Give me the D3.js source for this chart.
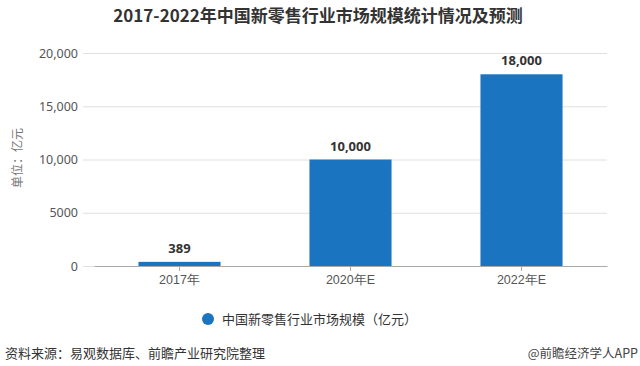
<!DOCTYPE html>
<html>
<head>
<meta charset="utf-8">
<script src="https://cdn.jsdelivr.net/npm/d3@7"></script>
<style>
  body { margin: 0; background: #fff; }
  svg { display: block; font-family: "Noto Sans CJK SC", "Noto Sans", sans-serif; }
</style>
</head>
<body>
<svg id="chart" width="640" height="366"></svg>
<script>
// chart data
var categories = ["2017年", "2020年E", "2022年E"];
var values = [389, 10000, 18000];
var valueLabels = ["389", "10,000", "18,000"];
var yTicks = [0, 5000, 10000, 15000, 20000];
var yTickLabels = ["0", "5000", "10,000", "15,000", "20,000"];

var svg = d3.select("#chart");
var margin = {top: 53, right: 33, bottom: 100, left: 94};
var width = 640 - margin.left - margin.right;
var height = 366 - margin.top - margin.bottom; // 0 sits at y=266

var x = d3.scaleBand()
  .domain(categories)
  .range([0, width])
  .paddingInner(0.52)
  .paddingOuter(0.26);

var y = d3.scaleLinear()
  .domain([0, 20000])
  .range([height, 0]);

// title
svg.append("text")
  .attr("x", 318).attr("y", 22)
  .attr("text-anchor", "middle")
  .attr("font-size", 17).attr("font-weight", "bold")
  .attr("fill", "#333")
  .text("2017-2022年中国新零售行业市场规模统计情况及预测");

var g = svg.append("g").attr("transform", "translate(" + margin.left + "," + margin.top + ")");

// gridlines + y labels
var yAxis = g.append("g")
  .call(d3.axisLeft(y).tickValues(yTicks).tickSize(-width - 11).tickPadding(5)
    .tickFormat(function(d, i) { return yTickLabels[i]; }))
  .attr("transform", "translate(-11,0)");
yAxis.select(".domain").remove();
yAxis.selectAll(".tick line").attr("stroke", "#e0e0e0");
yAxis.selectAll(".tick text").attr("fill", "#555").attr("font-size", 12.5)
  .attr("font-family", "Noto Sans, sans-serif");

// bars
g.selectAll("rect.bar")
  .data(values)
  .enter().append("rect")
  .attr("class", "bar")
  .attr("x", function(d, i) { return x(categories[i]); })
  .attr("width", x.bandwidth())
  .attr("y", function(d) { return y(d); })
  .attr("height", function(d) { return height - y(d); })
  .attr("fill", "#1a74bf");

// value labels
g.selectAll("text.val")
  .data(values)
  .enter().append("text")
  .attr("class", "val")
  .attr("x", function(d, i) { return x(categories[i]) + x.bandwidth() / 2; })
  .attr("y", function(d) { return y(d) - 9; })
  .attr("text-anchor", "middle")
  .attr("font-size", 13).attr("font-weight", "bold")
  .attr("fill", "#333")
  .attr("font-family", "Noto Sans, sans-serif")
  .text(function(d, i) { return valueLabels[i]; });

// x axis
var xAxis = g.append("g")
  .attr("transform", "translate(0," + height + ")")
  .call(d3.axisBottom(x).tickSize(5).tickPadding(4).tickSizeOuter(0));
xAxis.select(".domain").attr("stroke", "#aaa");
xAxis.selectAll(".tick line").attr("stroke", "#aaa");
xAxis.selectAll(".tick text").attr("fill", "#555").attr("font-size", 12.5);

// y axis title
svg.append("text")
  .attr("transform", "translate(22,158) rotate(-90)")
  .attr("text-anchor", "middle")
  .attr("font-size", 12).attr("fill", "#777")
  .text("单位：亿元");

// legend
svg.append("circle").attr("cx", 208).attr("cy", 319).attr("r", 6).attr("fill", "#1a74bf");
svg.append("text")
  .attr("x", 222).attr("y", 324)
  .attr("font-size", 13).attr("fill", "#333")
  .text("中国新零售行业市场规模（亿元）");

// footer
svg.append("text")
  .attr("x", 5).attr("y", 358)
  .attr("font-size", 13).attr("fill", "#333")
  .text("资料来源：易观数据库、前瞻产业研究院整理");
svg.append("text")
  .attr("x", 638).attr("y", 358)
  .attr("text-anchor", "end")
  .attr("font-size", 12.5).attr("fill", "#444")
  .text("@前瞻经济学人APP");
</script>
</body>
</html>
